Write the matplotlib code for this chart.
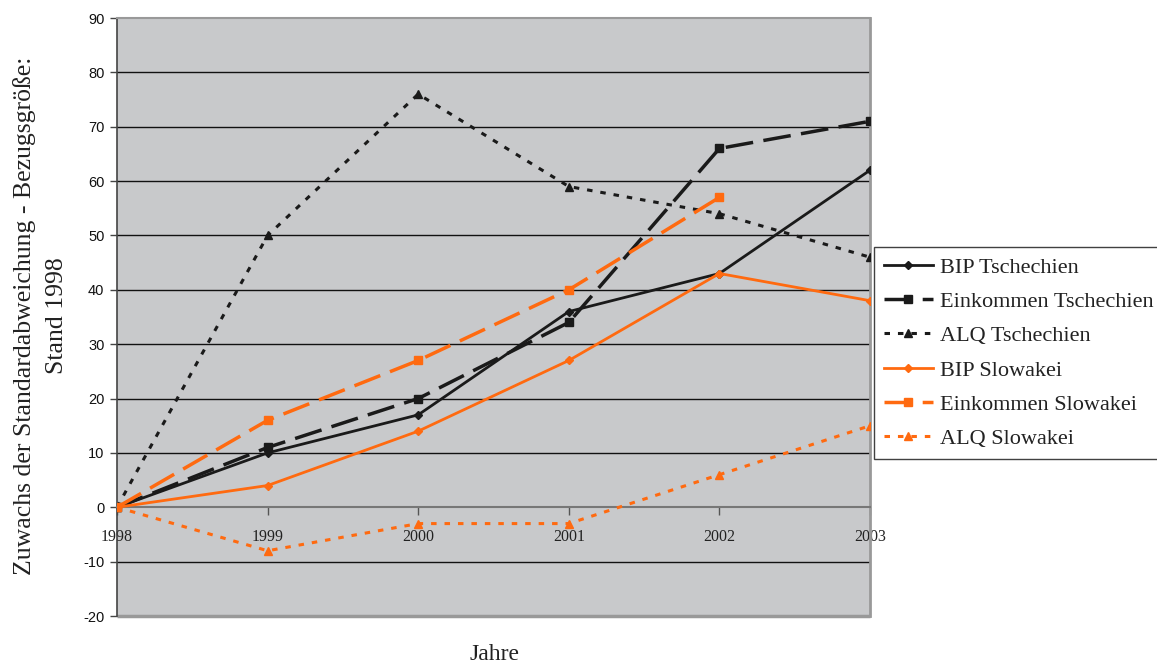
import matplotlib
matplotlib.use("Agg")
import matplotlib.pyplot as plt
from matplotlib.patches import Rectangle

years = [1998, 1999, 2000, 2001, 2002, 2003]
bip_cz = [0, 10, 17, 36, 43, 62]
eink_cz = [0, 11, 20, 34, 66, 71]
alq_cz = [0, 50, 76, 59, 54, 46]
bip_sk = [0, 4, 14, 27, 43, 38]
eink_sk = [0, 16, 27, 40, 57]
alq_sk = [0, -8, -3, -3, 6, 15]
yticks = list(range(-20, 91, 10))

W, H = 1157, 666
fig = plt.figure(figsize=(W / 100, H / 100), dpi=100)
ax = fig.add_axes([117 / W, 1 - 616 / H, (870 - 117) / W, (616 - 18) / H])
ax.set_facecolor('#c8c9cb')

black = '#1a1a1a'
orange = '#ff6a10'
serif = 'Liberation Serif'

ax.spines['bottom'].set_position(('data', 0))

for y in yticks:
    if y not in (-20, 90, 0):
        ax.axhline(y, color='#111111', lw=1.0, zorder=1)

ax.plot(years, bip_cz, color=black, lw=2.0, marker='D', ms=4, label='BIP Tschechien', zorder=3)
ax.plot(years, eink_cz, color=black, lw=2.5, ls=(0, (8, 3)), marker='s', ms=6, label='Einkommen Tschechien', zorder=3)
ax.plot(years, alq_cz, color=black, lw=2.2, ls=(0, (1.8, 2.6)), marker='^', ms=6, label='ALQ Tschechien', zorder=3)
ax.plot(years, bip_sk, color=orange, lw=2.0, marker='D', ms=4, label='BIP Slowakei', zorder=3)
ax.plot(years[:len(eink_sk)], eink_sk, color=orange, lw=2.5, ls=(0, (8, 3)), marker='s', ms=6, label='Einkommen Slowakei', zorder=3)
ax.plot(years, alq_sk, color=orange, lw=2.2, ls=(0, (1.8, 2.6)), marker='^', ms=6, label='ALQ Slowakei', zorder=3)

ax.set_xlim(1998, 2003)
ax.set_ylim(-20, 90)
ax.set_yticks(yticks)
ax.set_yticklabels([str(y) for y in yticks])
ax.set_xticks(years)
ax.set_xticklabels([str(y) for y in years])

ax.spines['bottom'].set_color('#777777')
ax.spines['bottom'].set_linewidth(1.5)
ax.spines['left'].set_color('#444444')
ax.spines['left'].set_linewidth(1.2)
ax.spines['top'].set_color('#999999')
ax.spines['top'].set_linewidth(1.5)
ax.spines['right'].set_color('#999999')
ax.spines['right'].set_linewidth(2)
ax.add_patch(Rectangle((0, 0), 1, 0.0, transform=ax.transAxes, fill=False, edgecolor='#999999', lw=2.5, clip_on=False, zorder=0.5))
ax.tick_params(axis='x', direction='out', length=6, width=1, color='#555555', pad=10,
               labelfontfamily=serif, labelsize=11.5, labelcolor='#222222')
ax.tick_params(axis='y', direction='out', length=5, width=1, color='#444444', pad=4,
               labelfontfamily='Liberation Sans', labelsize=10.5, labelcolor='#111111')

fig.text(25 / W, 1 - 316 / H, 'Zuwachs der Standardabweichung - Bezugsgröße:', rotation=90,
         ha='center', va='center', fontfamily=serif, fontsize=18.5, color='#222222')
fig.text(57 / W, 1 - 316 / H, 'Stand 1998', rotation=90,
         ha='center', va='center', fontfamily=serif, fontsize=18.5, color='#222222')
fig.text(494 / W, 1 - 655 / H, 'Jahre', ha='center', va='center', fontfamily=serif, fontsize=17, color='#222222')

leg = fig.legend(loc='upper left', bbox_to_anchor=(874 / W, 1 - 247 / H), frameon=True, fancybox=False,
                 prop={'family': serif, 'size': 16}, handlelength=2.2, handletextpad=0.3,
                 labelspacing=0.62, borderpad=0.45, borderaxespad=0)
leg.get_frame().set_edgecolor('#111111')
leg.get_frame().set_linewidth(1.0)
for t in leg.get_texts():
    t.set_color('#222222')

fig.savefig('out.png', dpi=100)
